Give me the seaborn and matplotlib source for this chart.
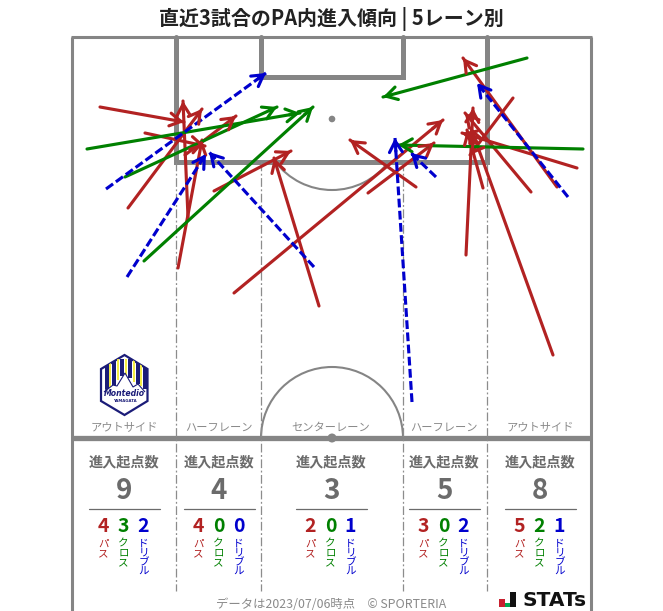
import pandas as pd
import matplotlib.pyplot as plt
import seaborn as sns
from matplotlib.patches import Arc, Circle, Polygon, Rectangle

# Arrows, in pitch coordinates (x0, y0, x1, y1)
pass_x0 = [100, 145, 188, 178, 128, 185, 214, 319, 234, 416, 368, 466, 483, 553, 531, 577, 513, 557]
pass_y0 = [107, 133, 217, 268, 208, 155, 191, 306, 293, 187, 193, 255, 188, 355, 192, 168, 98, 187]
pass_x1 = [184, 205, 183, 202, 202, 236, 291, 274, 443, 350, 434, 473, 467, 471, 465, 462, 470, 463]
pass_y1 = [122, 146, 101, 140, 109, 116, 151, 158, 120, 140, 143, 108, 130, 128, 113, 133, 155, 58]

cross_x0 = [87, 125, 144, 527, 583]
cross_y0 = [149, 177, 261, 58, 149]
cross_x1 = [300, 277, 313, 383, 398]
cross_y1 = [113, 107, 107, 97, 145]

drib_x0 = [106, 127, 314, 412, 436, 568]
drib_y0 = [189, 277, 267, 402, 177, 197]
drib_x1 = [266, 206, 209, 395, 411, 477]
drib_y1 = [73, 154, 152, 138, 153, 83]

# Zone summary
lanes = ['アウトサイド', 'ハーフレーン', 'センターレーン', 'ハーフレーン', 'アウトサイド']
lane_x = [124, 219, 331, 444, 540]
total = [9, 4, 3, 5, 8]
pass_n = [4, 4, 2, 3, 5]
cross_n = [3, 0, 0, 0, 2]
drib_n = [2, 0, 1, 2, 1]

RED = '#b22222'
GREEN = '#008000'
BLUE = '#0000cd'
LINE = '#858585'
TXT = '#6b6b6b'

sns.set_style('white')
plt.rcParams['font.family'] = ['Noto Sans CJK JP', 'DejaVu Sans']

fig, ax = plt.subplots(figsize=(6.63, 6.11), dpi=100)
ax.set_position([0, 0, 1, 1])
ax.set_xlim(0, 663)
ax.set_ylim(611, 0)
ax.axis('off')

# Pitch
ax.plot([72, 72], [37, 611], color=LINE, lw=2.2, solid_capstyle='butt')
ax.plot([591, 591], [37, 611], color=LINE, lw=2.2, solid_capstyle='butt')
ax.plot([71, 592], [37, 37], color=LINE, lw=2.2, solid_capstyle='butt')
ax.plot([72, 591], [438, 438], color=LINE, lw=3.8, solid_capstyle='butt')
ax.plot([176, 176, 487, 487], [37, 162, 162, 37], color=LINE, lw=3.6, solid_joinstyle='miter')
ax.plot([261, 261, 403, 403], [37, 77, 77, 37], color=LINE, lw=3.6, solid_joinstyle='miter')
for x in [176, 261, 403, 487]:
    ax.plot([x, x], [162, 591], color='#8c8c8c', lw=0.9, ls=(0, (7, 2, 1.5, 2)))
ax.add_patch(Circle((332, 119), 3.3, color=LINE, lw=0))
ax.add_patch(Circle((332, 438), 4.5, color=LINE, lw=0))
ax.add_patch(Arc((332, 119), 142, 142, theta1=37, theta2=143, color=LINE, lw=1.5))
ax.add_patch(Arc((332, 438), 142, 142, theta1=180, theta2=360, color=LINE, lw=1.5))

# Arrow shafts
rows = []
for kind, x0, y0, x1, y1 in [('pass', pass_x0, pass_y0, pass_x1, pass_y1),
                             ('cross', cross_x0, cross_y0, cross_x1, cross_y1),
                             ('drib', drib_x0, drib_y0, drib_x1, drib_y1)]:
    for i in range(len(x0)):
        rows.append({'kind': kind, 'id': f'{kind}{i}', 'x': x0[i], 'y': y0[i]})
        rows.append({'kind': kind, 'id': f'{kind}{i}', 'x': x1[i], 'y': y1[i]})
df = pd.DataFrame(rows)
palette = {'pass': RED, 'cross': GREEN, 'drib': BLUE}
sns.lineplot(data=df, x='x', y='y', hue='kind', style='kind', units='id', estimator=None,
             sort=False, palette=palette, dashes={'pass': '', 'cross': '', 'drib': (2.8, 1.1)},
             lw=2.25, legend=False, ax=ax)
ax.set_xlim(0, 663)
ax.set_ylim(611, 0)
ax.axis('off')

# Arrow heads
for color, x0, y0, x1, y1 in [(RED, pass_x0, pass_y0, pass_x1, pass_y1),
                              (GREEN, cross_x0, cross_y0, cross_x1, cross_y1),
                              (BLUE, drib_x0, drib_y0, drib_x1, drib_y1)]:
    for i in range(len(x0)):
        tail = (x1[i] - (x1[i] - x0[i]) * 0.05, y1[i] - (y1[i] - y0[i]) * 0.05)
        ax.annotate('', xy=(x1[i], y1[i]), xytext=tail,
                    arrowprops=dict(arrowstyle='->,head_length=0.55,head_width=0.32', color=color,
                                    lw=2.25, shrinkA=0, shrinkB=0, mutation_scale=14.5))

# Title
ax.text(331, 19, '直近3試合のPA内進入傾向 | 5レーン別', fontsize=14.4, fontweight='bold',
        color='#222222', ha='center', va='center')

# Lane summary
for i, x in enumerate(lane_x):
    ax.text(x, 428, lanes[i], fontsize=8.1, color='#8a8a8a', ha='center', va='center')
    ax.text(x, 462, '進入起点数', fontsize=10.2, fontweight='bold', color=TXT, ha='center', va='center')
    ax.text(x, 491, str(total[i]), fontsize=20, fontweight='bold', color=TXT, ha='center', va='center')
    ax.plot([x - 35.5, x + 35.5], [508.5, 508.5], color=TXT, lw=0.9)
    for dx, n, label, color in [(-20.5, pass_n[i], 'パス', RED),
                                (-0.5, cross_n[i], 'クロス', GREEN),
                                (19.5, drib_n[i], 'ドリブル', BLUE)]:
        ax.text(x + dx, 526, str(n), fontsize=14, fontweight='bold', color=color, ha='center', va='center')
        ax.text(x + dx, 538.5, '\n'.join(label), fontsize=7.6, color=color, ha='center', va='top', linespacing=0.92)

# Footer
ax.text(331, 604, 'データは2023/07/06時点\u3000© SPORTERIA', fontsize=8.9, color='#8a8a8a', ha='center', va='center')

# STATS mark
ax.add_patch(Rectangle((499, 599), 5.5, 8, color='#c8202f', lw=0))
ax.add_patch(Rectangle((505, 603), 4.5, 4, color='#00a651', lw=0))
ax.add_patch(Rectangle((510, 592), 5.5, 15, color='#111111', lw=0))
ax.text(522, 600, 'STATs', fontsize=14.5, fontweight='bold', color='#111111', ha='left', va='center',
        family='DejaVu Sans')

# Club badge
NAVY = '#1b1c78'
hex_pts = [(124.5, 355), (147.5, 369), (147.5, 401), (124.5, 415), (101, 401), (101, 369)]
ax.add_patch(Polygon(hex_pts, closed=True, fc='white', ec=NAVY, lw=1.6, joinstyle='miter'))
inner = Polygon(hex_pts, closed=True, transform=ax.transData, fc='none', ec='none')
ax.add_patch(inner)
for sx, bottom, col in [(105, 389, NAVY), (109, 388, '#f4ec45'), (112, 386, NAVY), (117, 380, '#f4ec45'),
                        (120, 376, NAVY), (125, 375, '#f4ec45'), (128, 378, NAVY), (133, 382, '#f4ec45'),
                        (136, 384, NAVY), (140, 386, '#f4ec45'), (143, 389, NAVY)]:
    w = 4 if col == NAVY else 2
    r = ax.add_patch(Rectangle((sx, 359), w, bottom - 359, fc=col, ec='none'))
    r.set_clip_path(inner)
ax.add_patch(Polygon([(104, 392), (113, 385), (117, 386), (125, 373), (133, 387), (138, 384), (145, 392)],
                     closed=False, fc='white', ec=NAVY, lw=0.8))
ax.text(124.5, 394, 'Montedio', fontsize=5.6, fontweight='bold', style='italic', color=NAVY, ha='center',
        va='center', family='DejaVu Sans')
ax.text(124.5, 400.5, 'YAMAGATA', fontsize=2.8, fontweight='bold', color=NAVY, ha='center', va='center',
        family='DejaVu Sans')

fig.savefig('out.png', dpi=100)
